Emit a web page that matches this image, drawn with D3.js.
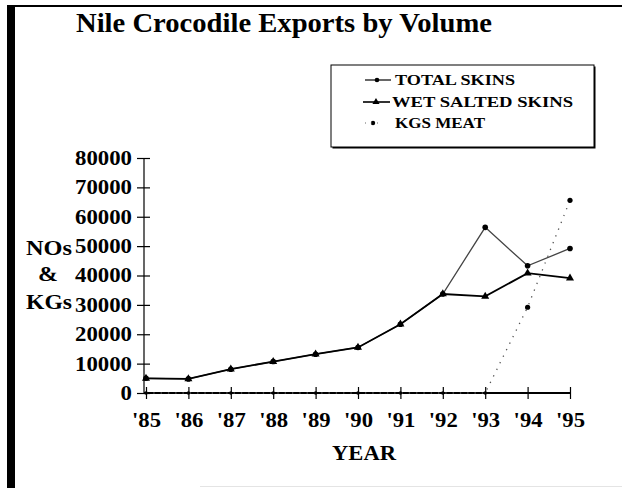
<!DOCTYPE html>
<html><head><meta charset="utf-8">
<script src="https://cdn.jsdelivr.net/npm/d3@7"></script>
<style>
html,body{margin:0;padding:0;background:#fff;}
svg{display:block;}
text{font-family:"Liberation Serif","Times New Roman",serif;font-weight:bold;fill:#000;}
</style></head>
<body><svg id="c" width="622" height="488"></svg>
<script>
const years = ["'85","'86","'87","'88","'89","'90","'91","'92","'93","'94","'95"];
const totalSkins = [5000,4800,8100,10700,13200,15500,23400,33700,56400,43300,49200];
const wetSalted = [5000,4800,8100,10700,13200,15500,23400,33700,32900,40800,39100];
const kgsMeat = [0,0,0,0,0,0,0,0,0,29200,65600];
const yTicks = [0,10000,20000,30000,40000,50000,60000,70000,80000];
const seriesNames = ["TOTAL SKINS","WET SALTED SKINS","KGS MEAT"];
const title = "Nile Crocodile Exports by Volume";

const svg = d3.select("#c");
// frame
svg.append("rect").attr("x",7).attr("y",5).attr("width",8).attr("height",483).attr("fill","#000");
svg.append("rect").attr("x",7).attr("y",5).attr("width",615).attr("height",2).attr("fill","#000");
svg.append("line").attr("x1",200).attr("x2",622).attr("y1",486.5).attr("y2",486.5).attr("stroke","#e4e4e4").attr("stroke-width",1);

svg.append("text").attr("x",284).attr("y",32).attr("text-anchor","middle").style("font-size","27px")
  .attr("textLength",416).attr("lengthAdjust","spacingAndGlyphs").text(title);

const x = d3.scalePoint().domain(years).range([146,570]);
const y = d3.scaleLinear().domain([0,80000]).range([393,158]);

// y axis
const yAxis = d3.axisLeft(y).tickValues(yTicks).tickSize(6).tickFormat(d3.format("d"));
const gy = svg.append("g").attr("transform","translate(144,0)").call(yAxis);
gy.select(".domain").attr("stroke","#000").attr("stroke-width",1.2).attr("d","M0,"+y(80000)+"V"+y(0));
gy.selectAll(".tick line").attr("x1",-7).attr("x2",6).attr("stroke","#000").attr("stroke-width",1.2);
gy.selectAll(".tick text").attr("x",-12).style("font-size","20px").style("font-family","Liberation Serif, serif").style("font-weight","bold").attr("fill","#000")
  .attr("textLength",function(){return 11.4*this.textContent.length;}).attr("lengthAdjust","spacingAndGlyphs");

// x axis
const xAxis = d3.axisBottom(x).tickSize(6).tickPadding(14);
const gx = svg.append("g").attr("transform","translate(0,393)").call(xAxis);
gx.select(".domain").attr("stroke","#000").attr("stroke-width",2).attr("d","M144,0H571");
gx.selectAll(".tick line").attr("y1",-6).attr("y2",6).attr("stroke","#000").attr("stroke-width",1.2);
gx.selectAll(".tick text").style("font-size","20px").style("font-family","Liberation Serif, serif").style("font-weight","bold").attr("fill","#000")
  .attr("textLength",29).attr("lengthAdjust","spacingAndGlyphs");

// axis titles
const yl = svg.append("g").style("font-size","20px");
yl.append("text").attr("x",49).attr("y",255).attr("text-anchor","middle").attr("textLength",46).attr("lengthAdjust","spacingAndGlyphs").text("NOs");
yl.append("text").attr("x",48).attr("y",281).attr("text-anchor","middle").attr("textLength",20).attr("lengthAdjust","spacingAndGlyphs").text("&");
yl.append("text").attr("x",49).attr("y",309).attr("text-anchor","middle").attr("textLength",46).attr("lengthAdjust","spacingAndGlyphs").text("KGs");
svg.append("text").attr("x",364).attr("y",460).attr("text-anchor","middle").style("font-size","20px")
  .attr("textLength",64).attr("lengthAdjust","spacingAndGlyphs").text("YEAR");

const line = d3.line().x((d,i)=>x(years[i])).y(d=>y(d));

// meat (dotted)
svg.append("path").datum(kgsMeat).attr("d",line).attr("fill","none").attr("stroke","#555").attr("stroke-width",1.3).attr("stroke-dasharray","1.3,6");
// total skins (thin)
svg.append("path").datum(totalSkins).attr("d",line).attr("fill","none").attr("stroke","#444").attr("stroke-width",1.3);
// wet salted (thick)
svg.append("path").datum(wetSalted).attr("d",line).attr("fill","none").attr("stroke","#000").attr("stroke-width",1.8);

const tri = d3.symbol().type(d3.symbolTriangle).size(28);
svg.append("g").selectAll("path").data(wetSalted).join("path")
  .attr("d",tri).attr("transform",(d,i)=>`translate(${x(years[i])},${y(d)})`).attr("fill","#000");
svg.append("g").selectAll("circle").data(totalSkins).join("circle")
  .attr("cx",(d,i)=>x(years[i])).attr("cy",d=>y(d)).attr("r",2.8).attr("fill","#000");
svg.append("g").selectAll("circle").data(kgsMeat).join("circle")
  .attr("cx",(d,i)=>x(years[i])).attr("cy",d=>y(d)).attr("r",d=>d>0?2.6:1.8).attr("fill","#000");

// legend
const lg = svg.append("g");
lg.append("rect").attr("x",332.5).attr("y",66.5).attr("width",263).attr("height",82).attr("fill","#000");
lg.append("rect").attr("x",331).attr("y",65).attr("width",263).attr("height",82).attr("fill","#fff").attr("stroke","#000").attr("stroke-width",1);
const ly = [85,107,128];
const lw = [120,181,90];
lg.append("line").attr("x1",365).attr("x2",391).attr("y1",ly[0]-5).attr("y2",ly[0]-5).attr("stroke","#000").attr("stroke-width",1.2);
lg.append("circle").attr("cx",377).attr("cy",ly[0]-5).attr("r",2.3).attr("fill","#000");
lg.append("line").attr("x1",363).attr("x2",390).attr("y1",ly[1]-5).attr("y2",ly[1]-5).attr("stroke","#000").attr("stroke-width",1.6);
lg.append("path").attr("d",d3.symbol().type(d3.symbolTriangle).size(22)).attr("transform",`translate(376,${ly[1]-5})`).attr("fill","#000");
lg.append("circle").attr("cx",373).attr("cy",ly[2]-5).attr("r",2.2).attr("fill","#000");
lg.append("line").attr("x1",365).attr("x2",382).attr("y1",ly[2]-5).attr("y2",ly[2]-5).attr("stroke","#666").attr("stroke-width",1).attr("stroke-dasharray","1,5");
lg.selectAll("text.l").data(seriesNames).join("text").attr("class","l")
  .attr("x",(d,i)=>i===1?392:395).attr("y",(d,i)=>ly[i]).style("font-size","15px")
  .attr("textLength",(d,i)=>lw[i]).attr("lengthAdjust","spacingAndGlyphs").text(d=>d);
</script></body></html>
